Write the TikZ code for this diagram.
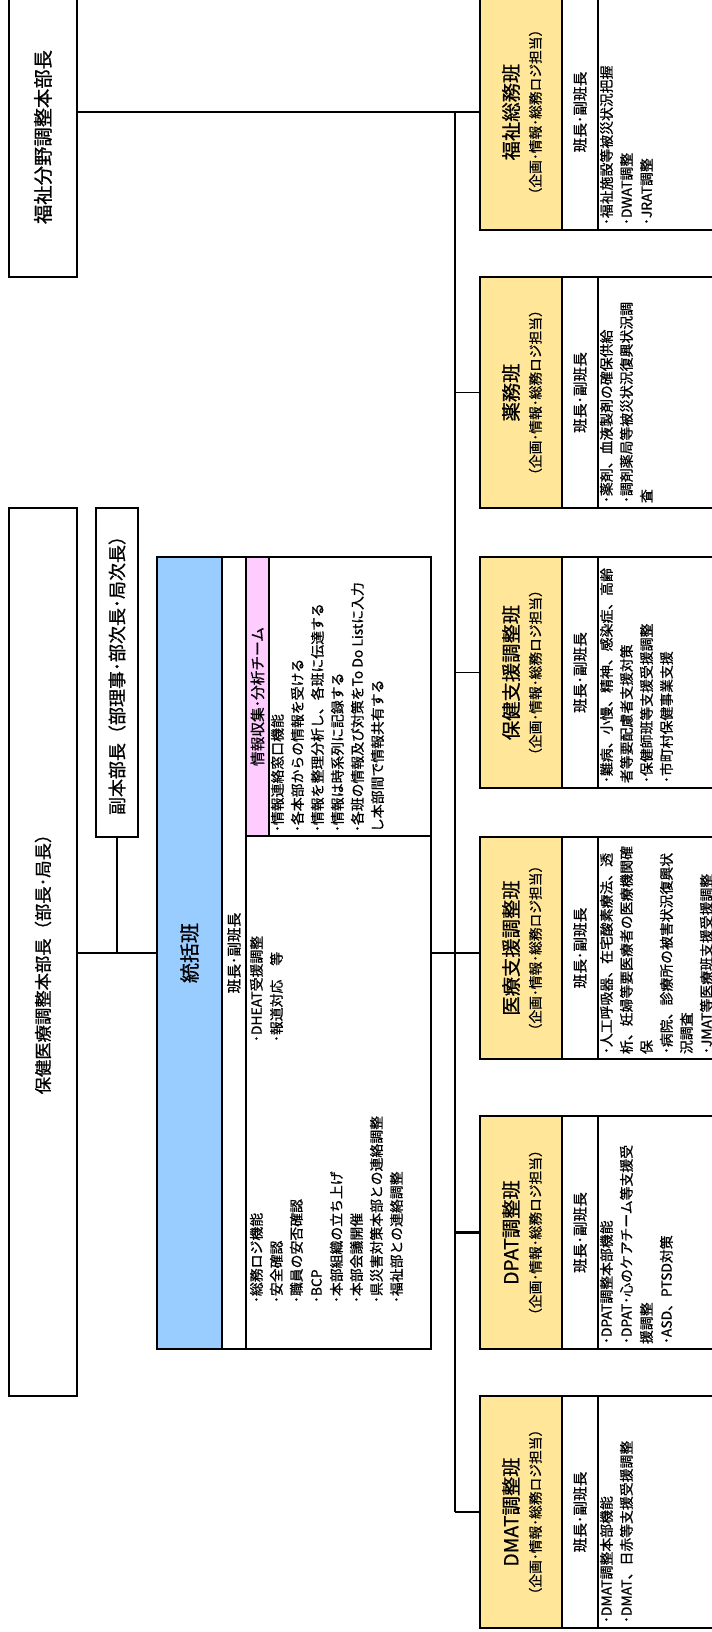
\documentclass[tikz,border=0pt]{standalone}
\usepackage{fontspec}
\setmainfont{Noto Sans CJK JP}[FakeBold=0.8]
\definecolor{ylw}{RGB}{255,230,153}
\definecolor{blu}{RGB}{153,204,255}
\definecolor{pnk}{RGB}{255,204,255}
\newcommand\mkbox[5]{\node[bx,minimum width={(#4-#2)*0.75pt},minimum height={(#5-#3)*0.75pt}] (#1) at (#2,#3) {};}
\newcommand\hanbox[5]{%
  \fill[ylw] (480,#2) rectangle (562,#3);
  \mkbox{#1}{480}{#2}{725}{#3}
  \draw[ln] (562,#2) -- (562,#3) (598,#2) -- (598,#3);
  \node[ttl] (#1t) at (522,{(#2+#3)/2}) {#4\\{\fontsize{10.3}{13}\selectfont （企画･情報･総務ロジ担当）}};
  \node[hc] (#1h) at (580,{(#2+#3)/2}) {班長･副班長};
  \node[body] (#1b) at (600,#3-5) {#5};
}
\begin{document}
\begin{tikzpicture}[x=0.75pt,y=-0.75pt,
  bx/.style={draw,line width=1pt,inner sep=0pt,outer sep=0pt,anchor=north west,rectangle},
  ln/.style={line width=1pt},
  thk/.style={line width=1.6pt},
  rt/.style={rotate=90,inner sep=0pt,outer sep=0pt},
  ttl/.style={rt,align=center,font=\fontsize{14.5}{16.7}\selectfont},
  hc/.style={rt,font=\fontsize{11}{12}\selectfont},
  body/.style={rt,anchor=north west,align=left,font=\fontsize{10.4}{15}\selectfont}]
\useasboundingbox (0,0) rectangle (712,1632);
\clip (0,0) rectangle (712,1632);
\fill[white] (0,0) rectangle (712,1632);

% top level boxes
\mkbox{fuk}{9}{-3}{77}{277}
\node[rt,font=\fontsize{14.5}{16}\selectfont] (fukt) at (43,137) {福祉分野調整本部長};
\mkbox{hon}{9}{508}{77}{1396}
\node[rt,font=\fontsize{13}{14}\selectfont] (hont) at (43,960) {保健医療調整本部長（部長･局長）};
\mkbox{fuku}{96}{508}{138}{837}
\node[rt,font=\fontsize{13.5}{14}\selectfont] (fukut) at (117,671) {副本部長（部理事･部次長･局次長）};

% toukatsu
\fill[blu] (157,557) rectangle (222,1349);
\fill[pnk] (246,557) rectangle (269,836);
\mkbox{tou}{157}{557}{431}{1349}
\draw[ln] (222,557) -- (222,1349) (246,557) -- (246,1349);
\draw[ln] (246,836) -- (431,836) (269,557) -- (269,836);
\node[rt,font=\fontsize{15}{17}\selectfont] (tout) at (189.5,953) {統括班};
\node[hc] (touh) at (234,953) {班長･副班長};
\node[hc] (joho) at (257.5,696.5) {情報収集･分析チーム};
\node[body] (johob) at (271,832) {･情報連絡窓口機能\\･各本部からの情報を受ける\\･情報を整理分析し、各班に伝達する\\･情報は時系列に記録する\\･各班の情報及び対策をTo Do Listに入力\\し本部間で情報共有する};
\node[body] (toub1) at (250,1303) {･総務ロジ機能\\･安全確認\\･職員の安否確認\\･BCP\\･本部組織の立ち上げ\\･本部会議開催\\･県災害対策本部との連絡調整\\･福祉部との連絡調整};
\node[body] (toub2) at (250,1042) {･DHEAT受援調整\\･報道対応　等};

% han boxes
\hanbox{fsoumu}{-6}{230}{福祉総務班}{･福祉施設等被災状況把握\\･DWAT調整\\･JRAT調整}
\hanbox{yaku}{277}{508}{薬務班}{･薬剤、血液製剤の確保供給\\･調剤薬局等被災状況復興状況調\\査}
\hanbox{hoken}{557}{788}{保健支援調整班}{･難病、小慢、精神、感染症、高齢\\者等要配慮者支援対策\\･保健師班等支援受援調整\\･市町村保健事業支援}
\hanbox{iryou}{837}{1059}{医療支援調整班}{･人工呼吸器、在宅酸素療法、透\\析、妊婦等要医療者の医療機関確\\保\\･病院、診療所の被害状況復興状\\況調査\\･JMAT等医療班支援受援調整}
\hanbox{dpat}{1116}{1349}{DPAT調整班}{･DPAT調整本部機能\\･DPAT･心のケアチーム等支援受\\援調整\\･ASD、PTSD対策}
\hanbox{dmat}{1396}{1628}{DMAT調整班}{･DMAT調整本部機能\\･DMAT、日赤等支援受援調整}

% connectors
\coordinate (tr) at (455,0);
\draw[thk] (fuk.east |- fsoumu.west) -- (fsoumu.west);
\draw[ln] (tr |- fsoumu.west) -- (tr |- dmat.west);
\foreach \n in {yaku,hoken,dmat} {\draw[ln] (tr |- \n.west) -- (\n.west);}
\draw[thk] (tr |- dpat.west) -- (dpat.west);
\draw[ln] (hon.east |- tou.west) -- (tou.west);
\draw[ln] (tou.east) -- (tou.east -| iryou.west);
\draw[ln] (fuku.south) -- (fuku.south |- tou.west);
\end{tikzpicture}
\end{document}
